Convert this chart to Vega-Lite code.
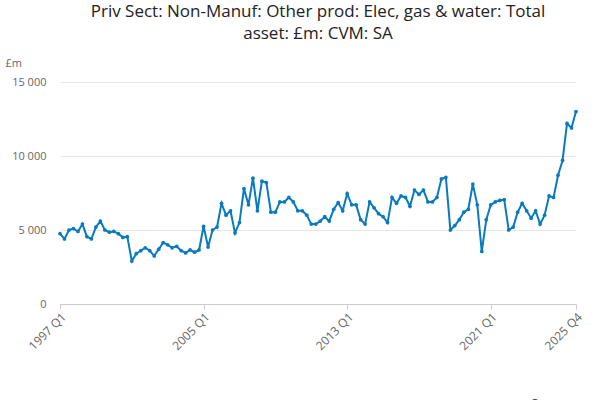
{
  "$schema": "https://vega.github.io/schema/vega-lite/v6.json",
  "width": 516,
  "height": 222,
  "padding": {"left": 5, "top": 3, "right": 14, "bottom": 2},
  "config": {"font": "Open Sans", "view": {"stroke": null}},
  "title": {"text": ["Priv Sect: Non-Manuf: Other prod: Elec, gas & water: Total", "asset: £m: CVM: SA"], "fontSize": 17, "lineHeight": 22, "fontWeight": "normal", "color": "#222222", "anchor": "middle", "offset": 14},
  "data": {"values": [
    {"q":"1997 Q1","v":4750},{"q":"1997 Q2","v":4400},{"q":"1997 Q3","v":5000},{"q":"1997 Q4","v":5100},
    {"q":"1998 Q1","v":4900},{"q":"1998 Q2","v":5400},{"q":"1998 Q3","v":4550},{"q":"1998 Q4","v":4400},
    {"q":"1999 Q1","v":5200},{"q":"1999 Q2","v":5600},{"q":"1999 Q3","v":5000},{"q":"1999 Q4","v":4850},
    {"q":"2000 Q1","v":4900},{"q":"2000 Q2","v":4750},{"q":"2000 Q3","v":4500},{"q":"2000 Q4","v":4550},
    {"q":"2001 Q1","v":2900},{"q":"2001 Q2","v":3400},{"q":"2001 Q3","v":3600},{"q":"2001 Q4","v":3800},
    {"q":"2002 Q1","v":3600},{"q":"2002 Q2","v":3250},{"q":"2002 Q3","v":3700},{"q":"2002 Q4","v":4150},
    {"q":"2003 Q1","v":4000},{"q":"2003 Q2","v":3800},{"q":"2003 Q3","v":3900},{"q":"2003 Q4","v":3600},
    {"q":"2004 Q1","v":3450},{"q":"2004 Q2","v":3650},{"q":"2004 Q3","v":3500},{"q":"2004 Q4","v":3650},
    {"q":"2005 Q1","v":5250},{"q":"2005 Q2","v":3850},{"q":"2005 Q3","v":5000},{"q":"2005 Q4","v":5200},
    {"q":"2006 Q1","v":6800},{"q":"2006 Q2","v":6000},{"q":"2006 Q3","v":6300},{"q":"2006 Q4","v":4800},
    {"q":"2007 Q1","v":5500},{"q":"2007 Q2","v":7800},{"q":"2007 Q3","v":6700},{"q":"2007 Q4","v":8500},
    {"q":"2008 Q1","v":6300},{"q":"2008 Q2","v":8300},{"q":"2008 Q3","v":8200},{"q":"2008 Q4","v":6200},
    {"q":"2009 Q1","v":6200},{"q":"2009 Q2","v":6900},{"q":"2009 Q3","v":6900},{"q":"2009 Q4","v":7200},
    {"q":"2010 Q1","v":6900},{"q":"2010 Q2","v":6300},{"q":"2010 Q3","v":6300},{"q":"2010 Q4","v":6000},
    {"q":"2011 Q1","v":5400},{"q":"2011 Q2","v":5400},{"q":"2011 Q3","v":5600},{"q":"2011 Q4","v":5900},
    {"q":"2012 Q1","v":5600},{"q":"2012 Q2","v":6400},{"q":"2012 Q3","v":6850},{"q":"2012 Q4","v":6300},
    {"q":"2013 Q1","v":7450},{"q":"2013 Q2","v":6700},{"q":"2013 Q3","v":6700},{"q":"2013 Q4","v":5700},
    {"q":"2014 Q1","v":5400},{"q":"2014 Q2","v":6900},{"q":"2014 Q3","v":6500},{"q":"2014 Q4","v":6100},
    {"q":"2015 Q1","v":5900},{"q":"2015 Q2","v":5500},{"q":"2015 Q3","v":7200},{"q":"2015 Q4","v":6800},
    {"q":"2016 Q1","v":7300},{"q":"2016 Q2","v":7200},{"q":"2016 Q3","v":6600},{"q":"2016 Q4","v":7700},
    {"q":"2017 Q1","v":7400},{"q":"2017 Q2","v":7700},{"q":"2017 Q3","v":6900},{"q":"2017 Q4","v":6900},
    {"q":"2018 Q1","v":7200},{"q":"2018 Q2","v":8450},{"q":"2018 Q3","v":8550},{"q":"2018 Q4","v":5000},
    {"q":"2019 Q1","v":5300},{"q":"2019 Q2","v":5700},{"q":"2019 Q3","v":6200},{"q":"2019 Q4","v":6400},
    {"q":"2020 Q1","v":8100},{"q":"2020 Q2","v":6700},{"q":"2020 Q3","v":3550},{"q":"2020 Q4","v":5700},
    {"q":"2021 Q1","v":6700},{"q":"2021 Q2","v":6900},{"q":"2021 Q3","v":7000},{"q":"2021 Q4","v":7050},
    {"q":"2022 Q1","v":5000},{"q":"2022 Q2","v":5200},{"q":"2022 Q3","v":6200},{"q":"2022 Q4","v":6800},
    {"q":"2023 Q1","v":6300},{"q":"2023 Q2","v":5800},{"q":"2023 Q3","v":6300},{"q":"2023 Q4","v":5400},
    {"q":"2024 Q1","v":6000},{"q":"2024 Q2","v":7300},{"q":"2024 Q3","v":7200},{"q":"2024 Q4","v":8700},
    {"q":"2025 Q1","v":9700},{"q":"2025 Q2","v":12200},{"q":"2025 Q3","v":11900},{"q":"2025 Q4","v":13000}
  ]},
  "transform": [{"calculate": "'Priv Sect: Non-Manuf: Other prod: Elec, gas & water: Total asset: £m: CVM: SA'", "as": "series"}],
  "mark": {"type": "line", "point": {"size": 14, "filled": true}, "strokeWidth": 2},
  "encoding": {
    "x": {"field": "q", "type": "ordinal", "sort": null, "scale": {"type": "point", "padding": 0},
      "axis": {"values": ["1997 Q1", "2005 Q1", "2013 Q1", "2021 Q1", "2025 Q4"], "labelAngle": -45, "labelAlign": "right", "labelFontSize": 12, "labelColor": "#666666", "domainColor": "#cccccc", "tickColor": "#cccccc", "grid": false,
        "title": "Source:", "titleFontWeight": "normal", "titleFontSize": 13, "titleColor": "#444444", "titleAnchor": "end", "titleY": 93}},
    "y": {"field": "v", "type": "quantitative", "scale": {"domain": [0, 15000]},
      "axis": {"values": [0, 5000, 10000, 15000], "labelExpr": "replace(format(datum.value, ','), ',', ' ')", "labelFontSize": 11, "labelColor": "#666666", "domain": false, "ticks": false, "gridColor": "#e6e6e6", "labelPadding": 14,
        "title": "£m", "titleAngle": 0, "titleFontWeight": "normal", "titleFontSize": 11, "titleColor": "#666666", "titleAlign": "left", "titleX": -55, "titleY": -14}},
    "color": {"field": "series", "type": "nominal", "scale": {"range": ["#0a7abf"]},
      "legend": {"orient": "bottom", "title": null, "labelFontSize": 13, "labelFontWeight": "bold", "labelColor": "#333333", "symbolType": "stroke", "labelLimit": 700, "offset": 12}}
  }
}
